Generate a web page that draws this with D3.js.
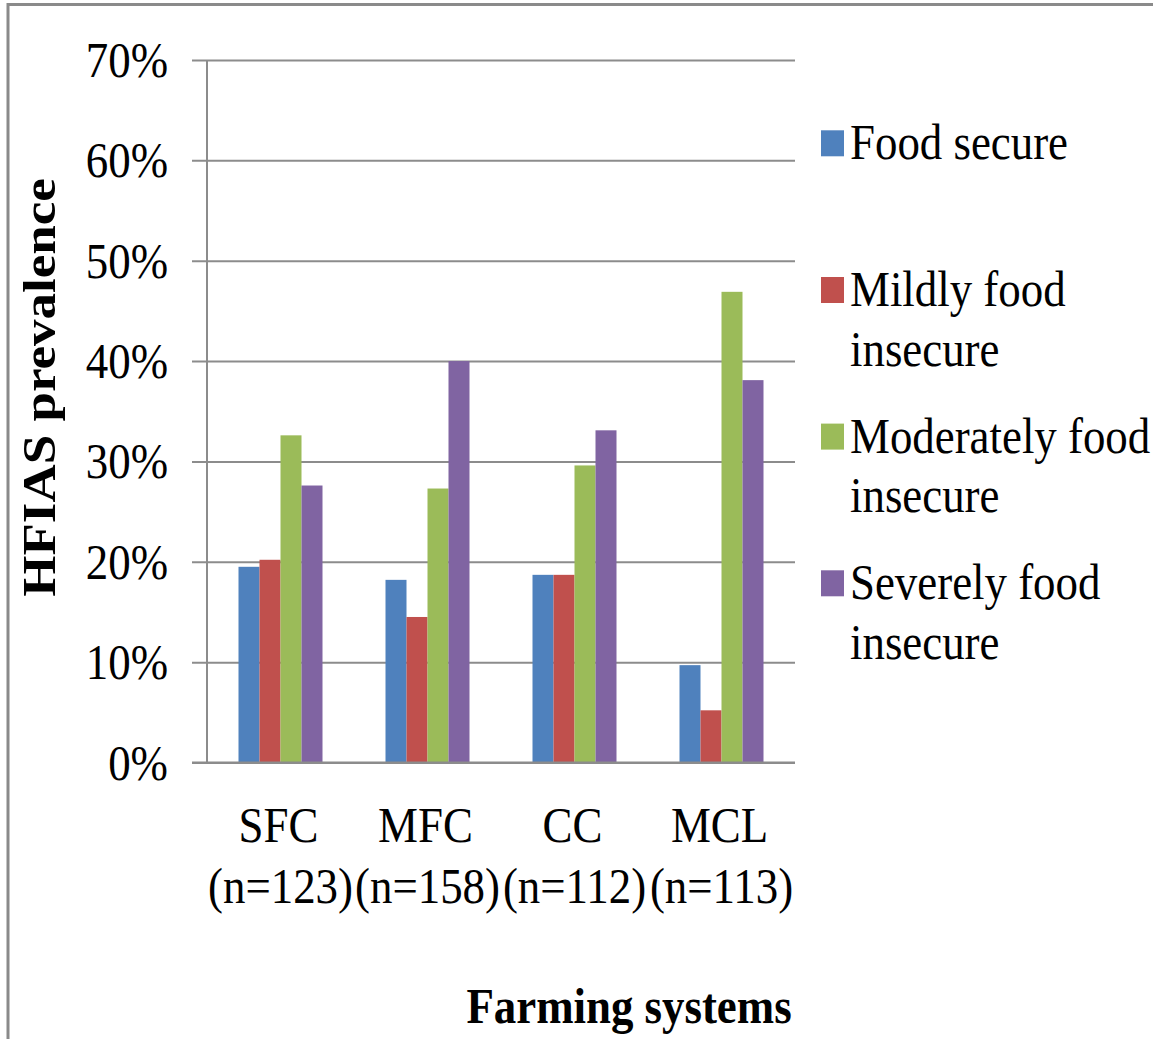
<!DOCTYPE html>
<html>
<head>
<meta charset="utf-8">
<script src="https://cdn.jsdelivr.net/npm/d3@7"></script>
<style>
  html, body { margin: 0; padding: 0; background: #fff; }
  svg { display: block; }
  text { font-family: "Liberation Serif", "Times New Roman", serif; fill: #000; }
</style>
</head>
<body>
<svg id="chart" width="1153" height="1039"></svg>
<script>
// ---- data ----
const categories = ["SFC", "MFC", "CC", "MCL"];
const sampleSizes = ["(n=123)", "(n=158)", "(n=112)", "(n=113)"];
const seriesNames = ["Food secure", "Mildly food insecure", "Moderately food insecure", "Severely food insecure"];
const legendLines = [["Food secure"], ["Mildly food", "insecure"], ["Moderately food", "insecure"], ["Severely food", "insecure"]];
const foodSecure = [0.195, 0.182, 0.187, 0.097];
const mildlyInsecure = [0.202, 0.145, 0.187, 0.052];
const moderatelyInsecure = [0.326, 0.273, 0.296, 0.469];
const severelyInsecure = [0.276, 0.400, 0.331, 0.381];
const yTicks = [0, 0.1, 0.2, 0.3, 0.4, 0.5, 0.6, 0.7];
const colors = ["#4F81BD", "#C0504D", "#9BBB59", "#8064A2"];

const seriesValues = [foodSecure, mildlyInsecure, moderatelyInsecure, severelyInsecure];
const table = categories.map((c, i) => ({
  cat: c,
  vals: seriesNames.map((s, j) => ({ s, v: seriesValues[j][i], j }))
}));

// ---- layout ----
const svg = d3.select("#chart");
const FS = 51, SX = 0.88;
const gridColor = "#8c8c8c";

svg.append("rect").attr("width", 1153).attr("height", 1039).attr("fill", "#fff");
// outer chart border (only top and left visible)
svg.append("rect").attr("x", 8).attr("y", 4.5).attr("width", 1300).attr("height", 1200)
  .attr("fill", "none").attr("stroke", "#8a8a8a").attr("stroke-width", 3);

const x0 = d3.scaleBand().domain(categories).range([207, 795]).padding(0);
const groupW = 84;
const x1 = d3.scaleBand().domain(seriesNames)
  .range([(x0.bandwidth() - groupW) / 2, (x0.bandwidth() + groupW) / 2]).padding(0);
const y = d3.scaleLinear().domain([0, 0.7]).range([762.5, 60]);

// y axis with gridlines
const yAxisG = svg.append("g").attr("transform", "translate(192,0)")
  .call(d3.axisLeft(y).tickValues(yTicks).tickFormat(d3.format(".0%"))
    .tickSizeInner(-(795 - 192)).tickSizeOuter(0));
yAxisG.select(".domain").remove();
yAxisG.selectAll(".tick line").attr("stroke", gridColor).attr("stroke-width", 2);
yAxisG.selectAll(".tick text")
  .attr("x", null).attr("dy", null)
  .attr("transform", "translate(-24,16.5) scale(" + SX + ",1)")
  .attr("text-anchor", "end")
  .style("font-size", FS + "px")
  .style("font-family", "'Liberation Serif', serif")
  .attr("fill", "#000");

// y axis line
svg.append("line").attr("x1", 207).attr("x2", 207).attr("y1", y(0.7)).attr("y2", y(0))
  .attr("stroke", gridColor).attr("stroke-width", 2);

// bars
const groups = svg.append("g").selectAll("g").data(table).join("g")
  .attr("transform", d => `translate(${x0(d.cat)},0)`);
groups.selectAll("rect").data(d => d.vals).join("rect")
  .attr("x", d => x1(d.s))
  .attr("width", x1.bandwidth())
  .attr("y", d => y(d.v))
  .attr("height", d => y(0) - y(d.v))
  .attr("fill", d => colors[d.j]);

// baseline on top of bars
svg.append("line").attr("x1", 192).attr("x2", 795).attr("y1", y(0)).attr("y2", y(0))
  .attr("stroke", gridColor).attr("stroke-width", 2);

// x axis labels
const xAxisG = svg.append("g").attr("transform", `translate(0,${y(0)})`)
  .call(d3.axisBottom(x0).tickSize(0).tickFormat(""));
xAxisG.select(".domain").remove();
xAxisG.selectAll(".tick").each(function (d, i) {
  const t = d3.select(this);
  t.select("text").remove();
  t.append("text").attr("transform", `translate(-2,79) scale(${SX},1)`)
    .attr("text-anchor", "middle").style("font-size", FS + "px").text(d);
  t.append("text").attr("transform", `translate(0,140) scale(${SX},1)`)
    .attr("text-anchor", "middle").style("font-size", FS + "px").text(sampleSizes[i]);
});

// axis titles
svg.append("text").attr("transform", `translate(55,387.5) scale(${SX},1) rotate(-90)`)
  .attr("text-anchor", "middle").style("font-size", "53px").style("font-weight", "bold")
  .text("HFIAS prevalence");
svg.append("text").attr("transform", `translate(629,1023) scale(${SX},1)`)
  .attr("text-anchor", "middle").style("font-size", FS + "px").style("font-weight", "bold")
  .text("Farming systems");

// legend
const legendY = [143.3, 290, 436.6, 583.3];
const leg = svg.append("g").selectAll("g").data(seriesNames).join("g")
  .attr("transform", (d, i) => `translate(821,${legendY[i]})`);
leg.append("rect").attr("x", 0).attr("y", -13).attr("width", 23).attr("height", 26)
  .attr("fill", (d, i) => colors[i]);
leg.each(function (d, i) {
  const g = d3.select(this);
  legendLines[i].forEach((line, k) => {
    g.append("text").attr("transform", `translate(29,${16 + k * 59.5}) scale(${SX},1)`)
      .style("font-size", FS + "px").text(line);
  });
});
</script>
</body>
</html>
